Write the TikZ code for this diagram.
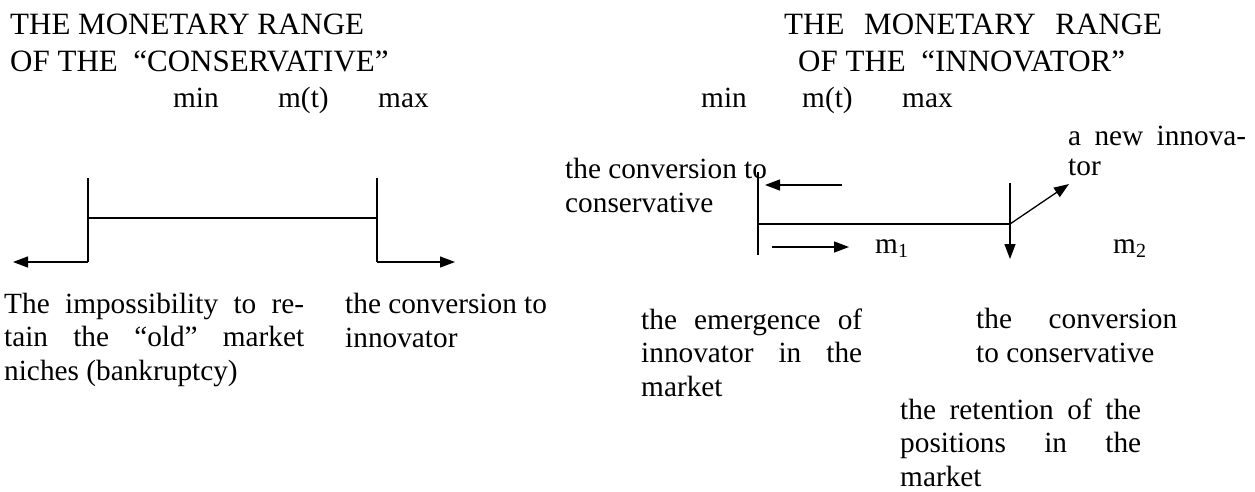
\documentclass[tikz,border=0pt]{standalone}
\usepackage{fontspec}
\setmainfont{Liberation Serif}
\usetikzlibrary{arrows.meta}
\newcommand{\sub}[1]{\raisebox{-4pt}{\fontsize{20}{20}\selectfont #1}}
\newcommand{\jline}[2]{\makebox[#1][s]{#2}}
\begin{document}
\begin{tikzpicture}[x=1pt,y=-1pt,
  font=\fontsize{29.3}{33.5}\selectfont,
  txt/.style={inner sep=0pt, anchor=base west, align=left},
  head/.style={txt, font=\fontsize{31}{36}\selectfont},
  ln/.style={line width=1.3pt},
  arr/.style={ln, -{Triangle[length=15pt,width=11pt]}}]
\useasboundingbox (0,0) rectangle (1255,491);

% ---- left panel: the conservative ----
\node[head] (lt1) at (10,34) {THE MONETARY RANGE};
\node[head] (lt2) at (10,71) {OF THE~ “CONSERVATIVE”};
\node[txt] (lmin) at (173,107) {min};
\node[txt] (lmt)  at (278,107) {m(t)};
\node[txt] (lmax) at (378,107) {max};

\coordinate (la1) at (88,178);
\coordinate (la2) at (88,262);
\coordinate (lb1) at (377,178);
\coordinate (lb2) at (377,262);
\coordinate (lamid) at (88,218);
\coordinate (lbmid) at (377,218);
\coordinate (lleft) at (13,262);
\coordinate (lright) at (455,262);

\draw[ln] (la1) -- (la2);
\draw[ln] (lb1) -- (lb2);
\draw[ln] (lamid) -- (lbmid);
\draw[arr] (la2) -- (lleft);
\draw[arr] (lb2) -- (lright);

% multi-line blocks are anchored on the baseline of their last line
\node[txt] (limp) at (4,380) {\jline{300pt}{The impossibility to re-}\\
  \jline{300pt}{tain the “old” market}\\ niches (bankruptcy)};
\node[txt] (lconv) at (345,347) {the conversion to\\ innovator};

% ---- right panel: the innovator ----
\node[head] (rt1) at (784,34) {\jline{378pt}{THE MONETARY RANGE}};
\node[head] (rt2) at (798,71) {OF THE~ “INNOVATOR”};
\node[txt] (rmin) at (701,107) {min};
\node[txt] (rmt)  at (802,107) {m(t)};
\node[txt] (rmax) at (902,107) {max};

\node[txt, font=\fontsize{29.3}{30}\selectfont] (rnew) at (1068,175)
  {\jline{178pt}{a new innova-}\\ tor};
\node[txt] (rcons) at (565,212) {the conversion to\\ conservative};

\coordinate (rc1) at (758,172);
\coordinate (rc2) at (758,255);
\coordinate (rcmid) at (758,224);
\coordinate (rd1) at (1010,183);
\coordinate (rd2) at (1010,259);
\coordinate (rdmid) at (1010,224);
\coordinate (rdiag) at (1069,184);
\coordinate (rbk1) at (842,185);
\coordinate (rbk2) at (765,185);
\coordinate (rfw1) at (772,247);
\coordinate (rfw2) at (849,247);

\draw[ln] (rc1) -- (rc2);
\draw[ln] (rcmid) -- (rdmid);
\draw[arr] (rd1) -- (rd2);
\draw[arr] (rdmid) -- (rdiag);
\draw[arr] (rbk1) -- (rbk2);
\draw[arr] (rfw1) -- (rfw2);

\node[txt] (rm1) at (875,253) {m\sub{1}};
\node[txt] (rm2) at (1113,253) {m\sub{2}};

\node[txt] (remg) at (641,396) {\jline{221pt}{the emergence of}\\
  \jline{221pt}{innovator in the}\\ market};
\node[txt] (rconv) at (976,362) {\jline{201pt}{the conversion}\\ to conservative};
\node[txt] (rret) at (900,486) {\jline{241pt}{the retention of the}\\
  \jline{241pt}{positions in the}\\ market};
\end{tikzpicture}
\end{document}
